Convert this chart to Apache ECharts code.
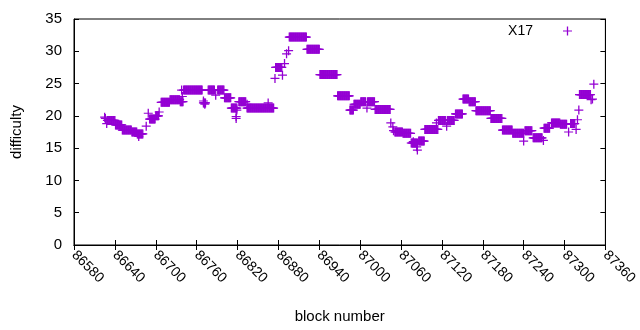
<!DOCTYPE html>
<html>
<head>
<meta charset="utf-8">
<script src="https://cdn.jsdelivr.net/npm/echarts@6/dist/echarts.min.js"></script>
<style>
  html, body { margin: 0; padding: 0; background: #fff; }
  #chart { width: 640px; height: 330px; }
</style>
</head>
<body>
<div id="chart"></div>
<script>
// difficulty stays flat over runs of blocks: first block, last block, value
var runStart = [86629, 86641, 86651, 86665, 86673, 86691, 86700, 86708, 86721, 86736,
  86741, 86770, 86777, 86791, 86801, 86811, 86822, 86834, 86876, 86896,
  86922, 86941, 86967, 86985, 86991, 87001, 87011, 87022, 87051, 87063,
  87075, 87086, 87095, 87115, 87128, 87140, 87151, 87160, 87170, 87192,
  87209, 87224, 87242, 87254, 87270, 87281, 87294, 87309, 87322];
var runEnd = [86640, 86650, 86664, 86672, 86681, 86699, 86704, 86720, 86735, 86740,
  86768, 86773, 86786, 86800, 86810, 86819, 86832, 86873, 86885, 86921,
  86940, 86966, 86984, 86990, 87000, 87008, 87021, 87044, 87062, 87074,
  87084, 87094, 87114, 87125, 87138, 87150, 87159, 87169, 87191, 87208,
  87223, 87240, 87252, 87267, 87278, 87293, 87303, 87315, 87338];
var runDiff = [19.3, 18.6, 17.8, 17.5, 17.2, 19.5, 20.0, 22.1, 22.5, 22.2,
  24.0, 22.0, 24.0, 24.0, 22.8, 21.2, 22.2, 21.2, 27.5, 32.2,
  30.3, 26.4, 23.1, 20.9, 21.8, 22.2, 22.2, 21.0, 17.5, 17.3,
  15.8, 16.1, 17.9, 19.3, 19.3, 20.3, 22.6, 22.2, 20.8, 19.6,
  17.8, 17.3, 17.7, 16.6, 18.1, 18.9, 18.7, 18.8, 23.3];

// single blocks off the runs
var oddBlock = [86625, 86626, 86628, 86675, 86686, 86689, 86705, 86738, 86739, 86770,
  86772, 86788, 86818, 86818, 86819, 86834, 86865, 86875, 86886, 86889,
  86892, 86895, 87010, 87045, 87048, 87049, 87078, 87083, 87084, 87112,
  87127, 87240, 87269, 87306, 87317, 87319, 87321, 87339, 87341, 87343];
var oddDiff = [19.8, 19.6, 18.8, 16.8, 18.4, 20.4, 20.6, 24.0, 23.0, 22.3,
  21.8, 23.2, 19.9, 19.6, 20.9, 21.8, 22.0, 25.8, 26.3, 28.1,
  29.6, 30.1, 21.2, 18.9, 18.3, 17.7, 16.0, 15.2, 14.7, 18.9,
  18.4, 16.1, 16.2, 17.5, 17.9, 19.4, 20.9, 22.5, 22.6, 24.9];

var xTicks = [86580, 87360, 60];
var yTicks = [0, 35, 5];

var points = [];
for (var i = 0; i < runStart.length; i++) {
  for (var b = runStart[i]; b <= runEnd[i]; b++) {
    points.push([b, runDiff[i]]);
  }
}
for (var j = 0; j < oddBlock.length; j++) {
  points.push([oddBlock[j], oddDiff[j]]);
}

var plus = 'path://M0,3.9h9v1.2h-9z M3.85,0h1.3v9h-1.3z';
var purple = '#9400d3';
var font = 'Liberation Sans';

var chart = echarts.init(document.getElementById('chart'), null, { renderer: 'canvas' });

function axisBase(extra) {
  var a = {
    type: 'value',
    axisLine: { show: true, lineStyle: { color: '#000', width: 1 } },
    axisTick: { show: true, inside: true, length: 5, lineStyle: { color: '#000' } },
    splitLine: { show: false },
    axisLabel: { show: false }
  };
  for (var k in extra) a[k] = extra[k];
  return a;
}

var option = {
  animation: false,
  backgroundColor: '#fff',
  grid: { left: 74, right: 31, top: 19, bottom: 85, show: true, borderColor: '#000', borderWidth: 1 },
  legend: {
    right: 68, top: 24, padding: 0,
    align: 'right',
    itemWidth: 9, itemHeight: 9,
    icon: plus,
    data: ['X17'],
    textStyle: { color: '#000', fontSize: 14, fontFamily: font, padding: [0, 25, 0, 0] }
  },
  xAxis: [
    axisBase({
      min: xTicks[0], max: xTicks[1], interval: xTicks[2],
      position: 'bottom',
      name: 'block number', nameLocation: 'middle', nameGap: 64,
      nameTextStyle: { color: '#000', fontSize: 15, fontFamily: font },
      axisLabel: { show: true, rotate: -45, margin: 8, color: '#000', fontSize: 14, fontFamily: font,
        showMinLabel: true, showMaxLabel: true, formatter: function (v) { return String(v); } }
    }),
    axisBase({ min: xTicks[0], max: xTicks[1], interval: xTicks[2], position: 'top' })
  ],
  yAxis: [
    axisBase({
      min: yTicks[0], max: yTicks[1], interval: yTicks[2],
      position: 'left',
      name: 'difficulty', nameLocation: 'middle', nameGap: 50,
      nameTextStyle: { color: '#000', fontSize: 15, fontFamily: font },
      axisLabel: { show: true, margin: 12, color: '#000', fontSize: 15, fontFamily: font }
    }),
    axisBase({ min: yTicks[0], max: yTicks[1], interval: yTicks[2], position: 'right' })
  ],
  series: [{
    name: 'X17',
    type: 'scatter',
    symbol: plus,
    symbolSize: 9,
    itemStyle: { color: purple, opacity: 1 },
    data: points
  }]
};
chart.setOption(option);
</script>
</body>
</html>
